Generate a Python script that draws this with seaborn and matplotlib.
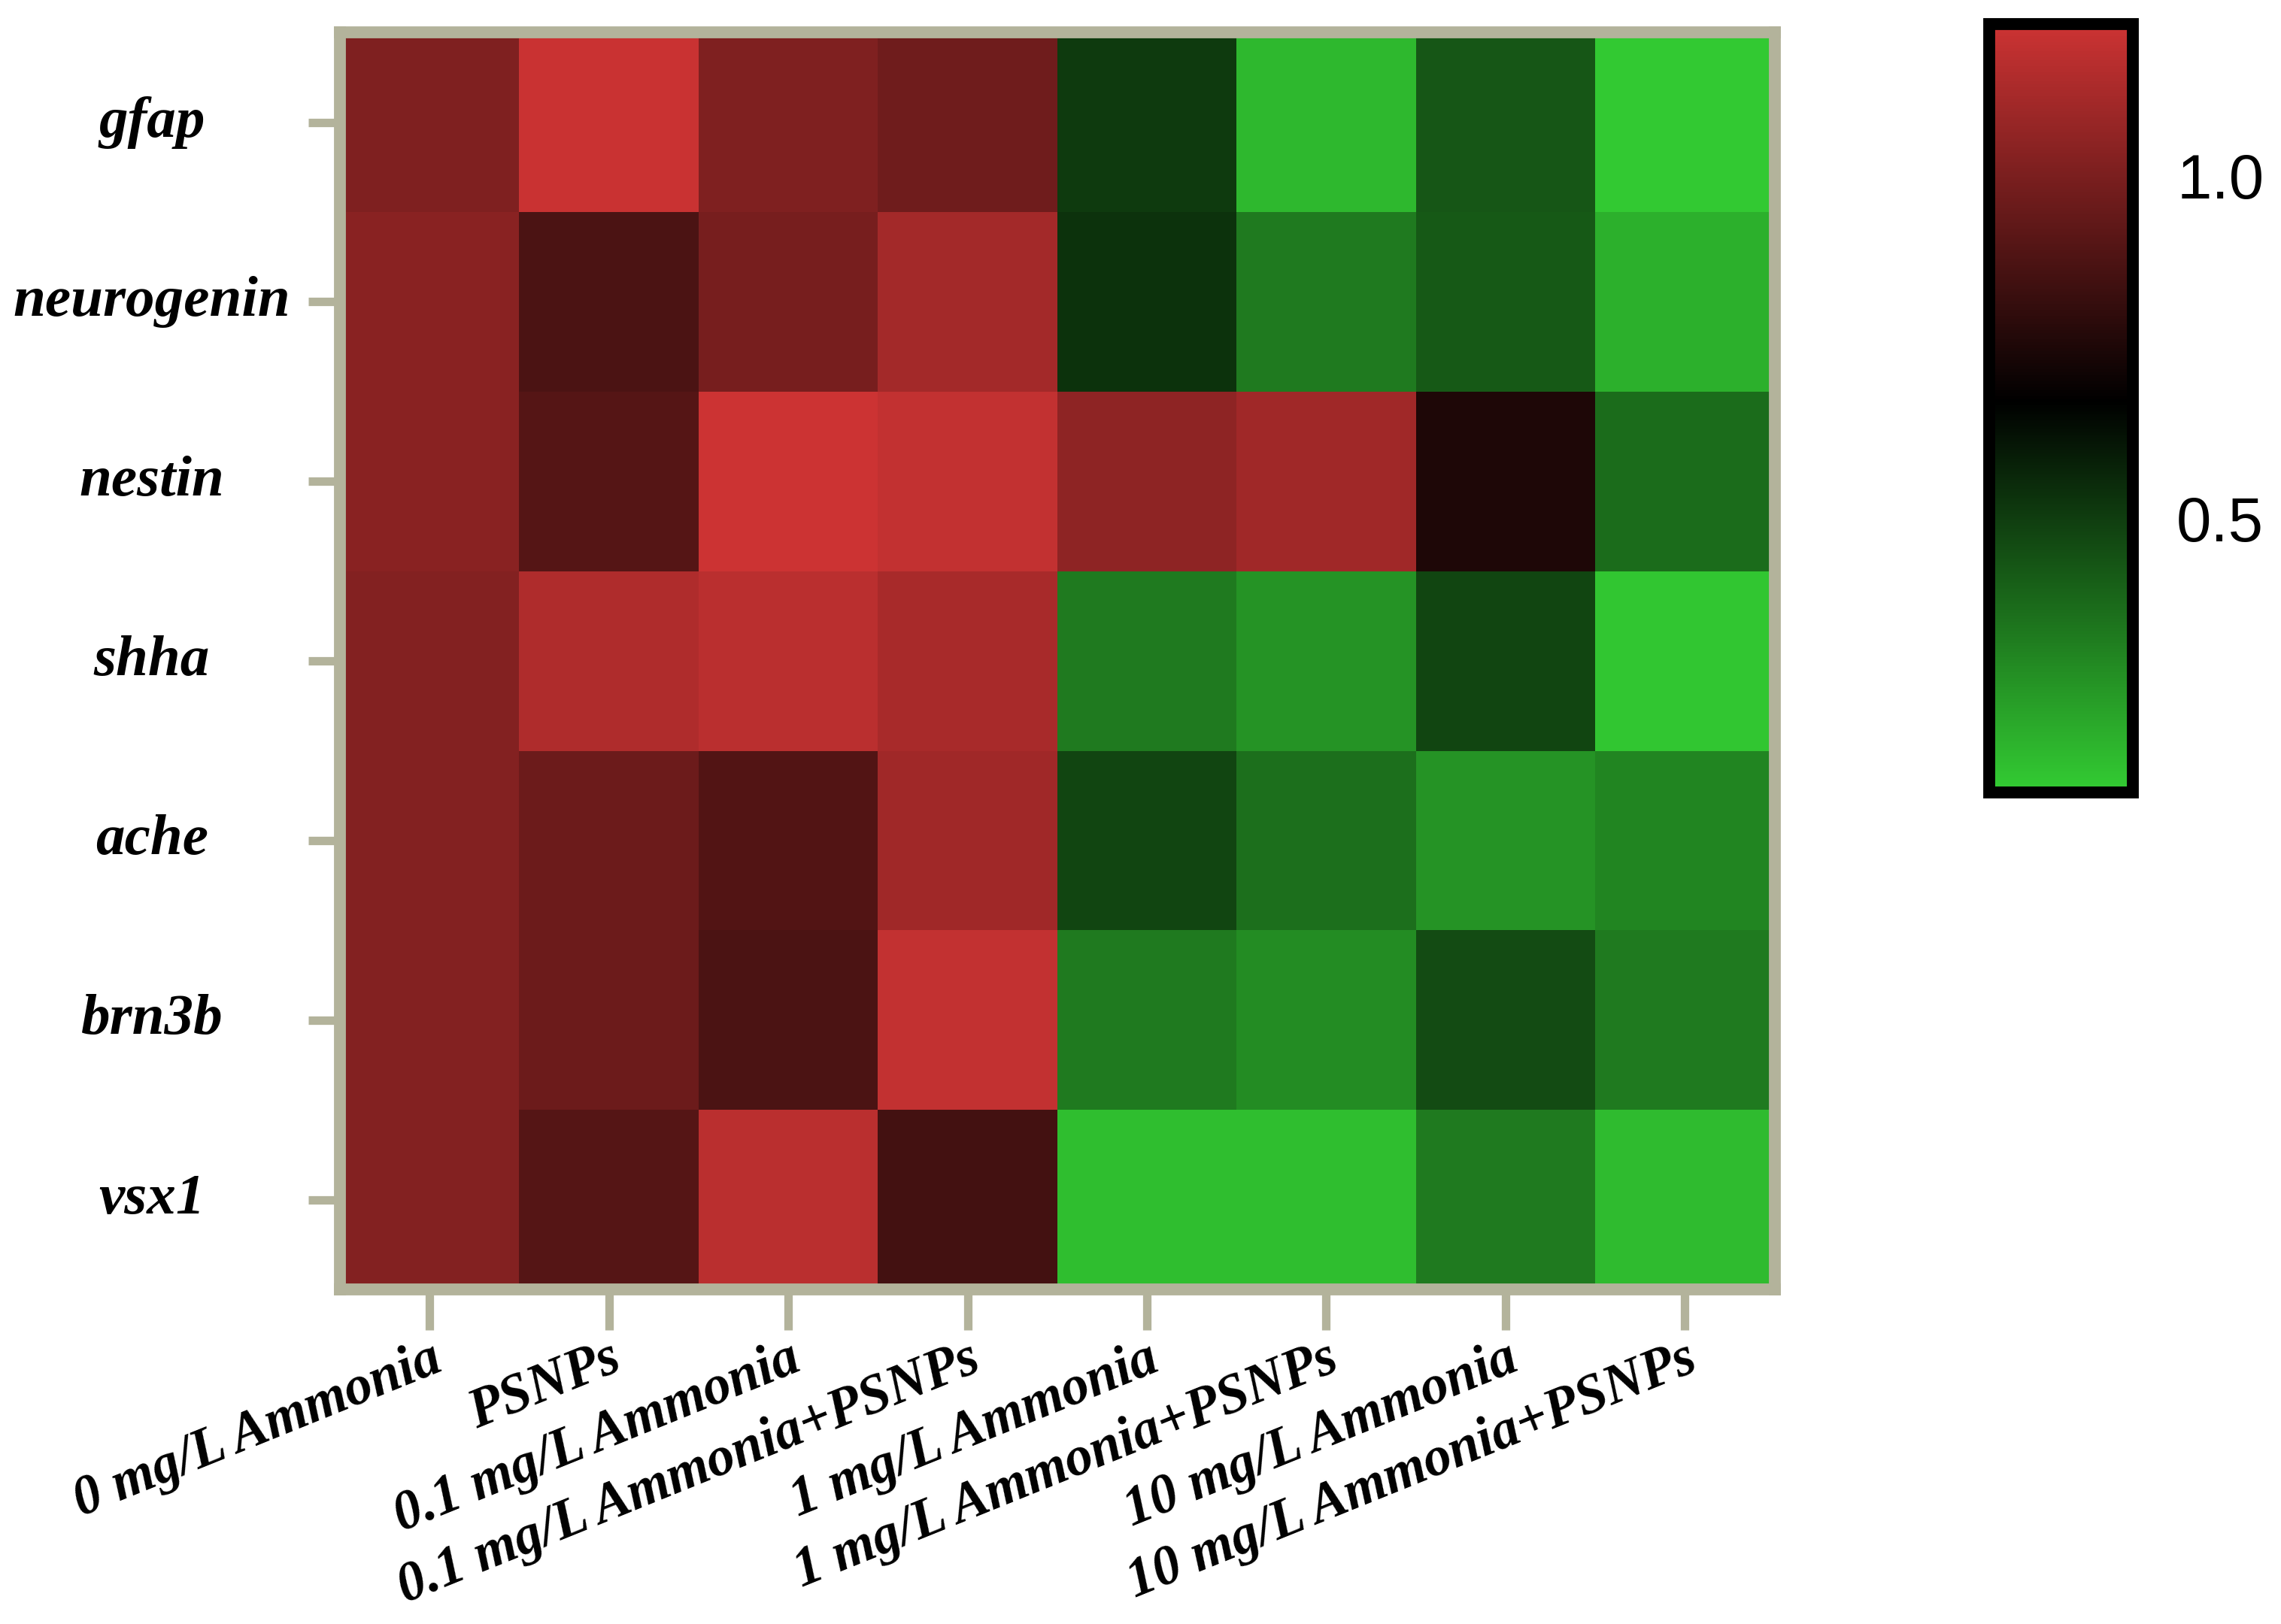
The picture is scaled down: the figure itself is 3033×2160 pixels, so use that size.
import numpy as np
import pandas as pd
import matplotlib
matplotlib.use("Agg")
import matplotlib.pyplot as plt
import seaborn as sns
from matplotlib.colors import LinearSegmentedColormap

genes = ['gfap', 'neurogenin', 'nestin', 'shha', 'ache', 'brn3b', 'vsx1']
groups = ['0 mg/L Ammonia', 'PSNPs', '0.1 mg/L Ammonia', '0.1 mg/L Ammonia+PSNPs',
          '1 mg/L Ammonia', '1 mg/L Ammonia+PSNPs', '10 mg/L Ammonia', '10 mg/L Ammonia+PSNPs']

# relative expression
gfap = [1.01, 1.21, 1.01, 0.97, 0.51, 0.16, 0.43, 0.11]
neurogenin = [1.04, 0.87, 0.99, 1.11, 0.53, 0.33, 0.42, 0.18]
nestin = [1.04, 0.90, 1.22, 1.19, 1.05, 1.10, 0.75, 0.37]
shha = [1.02, 1.14, 1.17, 1.12, 0.33, 0.26, 0.48, 0.12]
ache = [1.02, 0.96, 0.89, 1.10, 0.48, 0.36, 0.26, 0.30]
brn3b = [1.02, 0.96, 0.87, 1.19, 0.33, 0.28, 0.46, 0.33]
vsx1 = [1.02, 0.90, 1.17, 0.85, 0.14, 0.14, 0.33, 0.15]

cbar_ticks = [0.5, 1.0]
vmin, vmid, vmax = 0.1, 0.67, 1.22

df = pd.DataFrame([gfap, neurogenin, nestin, shha, ache, brn3b, vsx1], index=genes, columns=groups)

cmap = LinearSegmentedColormap.from_list(
    'gkr', [(0.0, '#33cc33'), ((vmid - vmin) / (vmax - vmin), '#000000'), (1.0, '#cc3333')])

sns.set_theme(style="white")
plt.rcParams['font.family'] = ['Liberation Serif', 'DejaVu Serif']
plt.rcParams['text.color'] = 'black'
plt.rcParams['xtick.labelcolor'] = 'black'
plt.rcParams['ytick.labelcolor'] = 'black'

border = '#b3b39b'

fig = plt.figure(figsize=(3033 / 300, 2160 / 300), dpi=300)
ax = fig.add_axes([0.149, 0.206, 0.629, 0.774])
cax = fig.add_axes([0.872, 0.512, 0.063, 0.473])

sns.heatmap(df, cmap=cmap, vmin=vmin, vmax=vmax, ax=ax, cbar_ax=cax,
            cbar_kws={'ticks': cbar_ticks})

for s in ax.spines.values():
    s.set_visible(True)
    s.set_color(border)
    s.set_linewidth(3.8)

ax.tick_params(axis='y', which='major', left=True, length=10, width=2.7, color=border,
               direction='out', pad=50, labelcolor='black')
ax.tick_params(axis='x', which='major', bottom=True, length=13, width=2.7, color=border,
               direction='out', pad=1, labelcolor='black')

ax.set_yticklabels(genes, rotation=0, fontsize=18.5, fontweight='bold', fontstyle='italic',
                   ha='center', va='center')
ax.set_xticklabels(groups, rotation=22, fontsize=17.5, fontweight='bold', fontstyle='italic',
                   ha='right', va='top', rotation_mode='anchor')
ax.set_xlabel('')
ax.set_ylabel('')

cbar = ax.collections[0].colorbar
cbar.outline.set_edgecolor('black')
cbar.outline.set_linewidth(3.8)
cax.tick_params(axis='y', direction='in', left=True, right=True, length=6, width=1.8,
                color='black', pad=14, labelsize=20, labelcolor='black')
cax.set_yticklabels(['0.5', '1.0'], family=['Liberation Sans', 'DejaVu Sans'])

fig.savefig('out.png', dpi=300)
